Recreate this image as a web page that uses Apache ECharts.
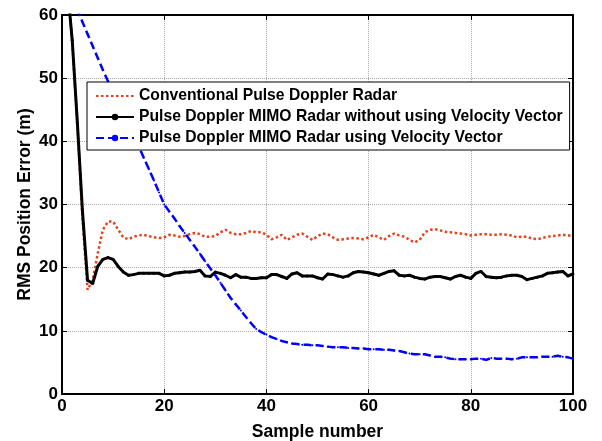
<!DOCTYPE html>
<html>
<head>
<meta charset="utf-8">
<script src="https://cdn.jsdelivr.net/npm/echarts@6/dist/echarts.min.js"></script>
<style>
html,body{margin:0;padding:0;background:#fff;}
#chart{width:602px;height:441px;}
</style>
</head>
<body>
<div id="chart"></div>
<script>
var seriesNames = [
  'Conventional Pulse Doppler Radar',
  'Pulse Doppler MIMO Radar without using Velocity Vector',
  'Pulse Doppler MIMO Radar using Velocity Vector'
];
var xTicks = [0, 20, 40, 60, 80, 100];
var yTicks = [0, 10, 20, 30, 40, 50, 60];

var conventional = [
  65, 56, 43, 28, 16.5, 18, 22.3, 26, 27.3, 27.3,
  26.0, 24.8, 24.5, 24.9, 25.1, 25.2, 25.0, 24.8, 24.7, 24.8,
  25.2, 25.1, 24.9, 25.0, 25.3, 25.5, 25.3, 24.9, 24.9, 25.0,
  25.6, 26.0, 25.5, 25.3, 25.3, 25.5, 25.8, 25.6, 25.6, 25.2,
  24.5, 24.8, 25.2, 24.4, 24.8, 25.2, 25.4, 24.9, 24.4, 25.0,
  25.4, 25.3, 24.8, 24.4, 24.5, 24.6, 24.7, 24.6, 24.5, 24.8,
  25.2, 24.8, 24.4, 25.0, 25.4, 25.1, 24.9, 24.4, 24.0, 24.4,
  25.6, 26.0, 26.1, 25.9, 25.7, 25.6, 25.5, 25.4, 25.3, 25.1,
  25.2, 25.3, 25.3, 25.2, 25.2, 25.3, 25.2, 25.1, 24.8, 24.9,
  24.9, 24.6, 24.5, 24.7, 24.9, 25.0, 25.1, 25.2, 25.1, 25.1
];
var mimoNoVel = [
  65, 56, 43, 29, 18, 17.5, 20.2, 21.3, 21.6, 21.3,
  20.2, 19.3, 18.8, 18.9, 19.1, 19.1, 19.1, 19.1, 19.1, 18.7,
  18.8, 19.1, 19.2, 19.3, 19.3, 19.4, 19.6, 18.7, 18.6, 19.3,
  19.1, 18.8, 18.4, 18.9, 18.5, 18.5, 18.3, 18.3, 18.4, 18.4,
  18.9, 18.9, 18.6, 18.3, 19.0, 19.2, 18.7, 18.7, 18.7, 18.4,
  18.2, 19.0, 18.9, 18.7, 18.5, 18.7, 19.2, 19.4, 19.3, 19.2,
  19.0, 18.8, 19.1, 19.4, 19.5, 18.8, 18.7, 18.8, 18.5, 18.3,
  18.2, 18.5, 18.6, 18.6, 18.4, 18.2, 18.6, 18.8, 18.5, 18.3,
  19.1, 19.4, 18.6, 18.5, 18.4, 18.5, 18.7, 18.8, 18.8, 18.6,
  18.1, 18.3, 18.5, 18.7, 19.1, 19.2, 19.3, 19.4, 18.7, 19.0
];
var mimoVel = [
  64.5, 62.6, 60.8, 58.9, 57.0, 55.1, 53.2, 51.3, 49.5, 47.7,
  46.0, 44.3, 42.6, 40.9, 39.2, 37.4, 35.6, 33.8, 31.9, 30.0,
  28.9, 27.8, 26.6, 25.5, 24.4, 23.3, 22.2, 21.0, 19.9, 18.8,
  17.6, 16.4, 15.2, 14.2, 13.2, 12.2, 11.2, 10.3, 9.8, 9.4,
  9.0, 8.7, 8.4, 8.2, 8.0, 7.9, 7.8, 7.8, 7.7, 7.7,
  7.6, 7.5, 7.4, 7.4, 7.4, 7.3, 7.3, 7.2, 7.2, 7.1,
  7.1, 7.1, 7.0, 7.0, 6.9, 6.8, 6.6, 6.4, 6.3, 6.3,
  6.3, 6.1, 5.9, 5.9, 5.8, 5.6, 5.5, 5.5, 5.5, 5.5,
  5.6, 5.6, 5.4, 5.7, 5.6, 5.6, 5.6, 5.5, 5.6, 5.8,
  5.8, 5.8, 5.8, 5.9, 5.9, 5.9, 6.05, 5.9, 5.8, 5.6
];
var samples = conventional.map(function (_, i) { return i + 1; });

function pairs(values) {
  return values.map(function (v, i) { return [samples[i], v]; });
}

var FONT = '"Liberation Sans", Arial, sans-serif';
var chart = echarts.init(document.getElementById('chart'), null, {renderer: 'canvas'});

var tickStyle = {inside: true, length: 5, lineStyle: {color: '#000', width: 1}};
var frameLine = {show: true, onZero: false, lineStyle: {color: '#000', width: 2}};
var gridLine = {show: true, lineStyle: {color: '#a8a8a8', width: 1, type: [1, 1]}};
var labelStyle = {fontFamily: FONT, fontWeight: 'bold', fontSize: 17, color: '#000'};
var nameStyle = {fontFamily: FONT, fontWeight: 'bold', fontSize: 17.5, color: '#000'};

var option = {
  animation: false,
  backgroundColor: '#fff',
  grid: {left: 62, right: 29, top: 15, bottom: 47, containLabel: false, outerBoundsMode: 'none'},
  xAxis: [{
    type: 'value', min: xTicks[0], max: xTicks[xTicks.length - 1], interval: 20,
    position: 'bottom',
    name: 'Sample number', nameLocation: 'middle', nameGap: 29,
    nameTextStyle: nameStyle,
    axisLine: frameLine, axisTick: tickStyle,
    axisLabel: Object.assign({margin: 4}, labelStyle),
    splitLine: gridLine
  }, {
    type: 'value', min: xTicks[0], max: xTicks[xTicks.length - 1], interval: 20,
    position: 'top',
    axisLine: frameLine, axisTick: tickStyle,
    axisLabel: {show: false}, splitLine: {show: false}
  }],
  yAxis: [{
    type: 'value', min: yTicks[0], max: yTicks[yTicks.length - 1], interval: 10,
    position: 'left',
    name: 'RMS Position Error (m)', nameLocation: 'middle', nameGap: 28, nameRotate: 90,
    nameMoveOverlap: false,
    nameTextStyle: nameStyle,
    axisLine: frameLine, axisTick: tickStyle,
    axisLabel: Object.assign({margin: 4}, labelStyle),
    splitLine: gridLine
  }, {
    type: 'value', min: yTicks[0], max: yTicks[yTicks.length - 1], interval: 10,
    position: 'right',
    axisLine: frameLine, axisTick: tickStyle,
    axisLabel: {show: false}, splitLine: {show: false}
  }],
  legend: {
    orient: 'vertical',
    left: 87, top: 82,
    z: 20,
    padding: [6, 7, 4, 8],
    itemGap: 5,
    itemWidth: 38, itemHeight: 8,
    backgroundColor: '#fff',
    borderColor: '#000', borderWidth: 1, borderRadius: 0,
    textStyle: {fontFamily: FONT, fontWeight: 'bold', fontSize: 15.7, lineHeight: 16, color: '#000'},
    data: [
      {name: seriesNames[0], itemStyle: {color: 'rgba(0,0,0,0)', borderWidth: 0}},
      {name: seriesNames[1]},
      {name: seriesNames[2]}
    ]
  },
  series: [{
    name: seriesNames[0], type: 'line', data: pairs(conventional),
    symbol: 'none', clip: true, z: 3,
    lineStyle: {color: '#e8401a', width: 2.5, type: [2.5, 2.5]},
    itemStyle: {color: '#e8401a'}
  }, {
    name: seriesNames[1], type: 'line', data: pairs(mimoNoVel),
    symbol: 'circle', symbolSize: 3, showSymbol: true, clip: true, z: 4,
    lineStyle: {color: '#000', width: 3, type: 'solid'},
    itemStyle: {color: '#000'}
  }, {
    name: seriesNames[2], type: 'line', data: pairs(mimoVel),
    symbol: 'circle', symbolSize: 2, showSymbol: true, clip: true, z: 5,
    lineStyle: {color: '#0000ff', width: 2.5, type: [8, 4]},
    itemStyle: {color: '#0000ff'}
  }]
};
chart.setOption(option);
</script>
</body>
</html>
